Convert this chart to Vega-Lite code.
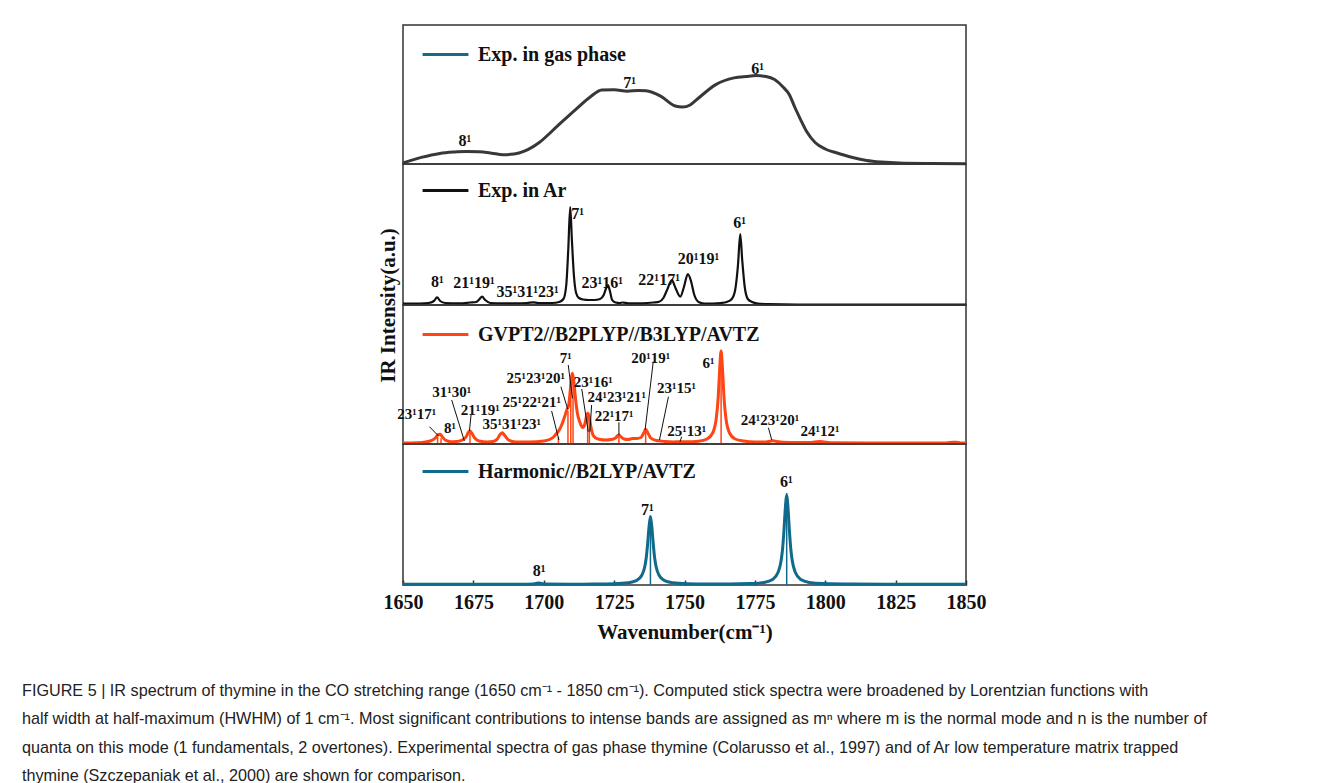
{
  "$schema": "https://vega.github.io/schema/vega-lite/v6.json",
  "autosize": {"type": "pad"},
  "padding": {"left": 22, "top": 24, "right": 8, "bottom": 0},
  "background": "white",
  "spacing": 0,
  "bounds": "flush",
  "resolve": {"scale": {"color": "independent"}, "legend": {"color": "independent"}},
  "title": {
    "text": [
      "FIGURE 5 | IR spectrum of thymine in the CO stretching range (1650 cm⁻¹ - 1850 cm⁻¹). Computed stick spectra were broadened by Lorentzian functions with",
      "half width at half-maximum (HWHM) of 1 cm⁻¹. Most significant contributions to intense bands are assigned as mⁿ where m is the normal mode and n is the number of",
      "quanta on this mode (1 fundamentals, 2 overtones). Experimental spectra of gas phase thymine (Colarusso et al., 1997) and of Ar low temperature matrix trapped",
      "thymine (Szczepaniak et al., 2000) are shown for comparison."
    ],
    "orient": "bottom",
    "anchor": "start",
    "frame": "group",
    "dx": -381,
    "offset": 40,
    "baseline": "top",
    "font": "Liberation Sans",
    "fontSize": 16.2,
    "fontWeight": "normal",
    "color": "#222222",
    "lineHeight": 28.5
  },
  "datasets": {
    "gas": [
      {"wn": 1650, "v": 1.0}, {"wn": 1656.5, "v": 6.6}, {"wn": 1663.1, "v": 10.6}, {"wn": 1668.5, "v": 12.0},
      {"wn": 1672.5, "v": 12.6}, {"wn": 1677, "v": 12.2}, {"wn": 1681.5, "v": 10.8}, {"wn": 1685.5, "v": 9.3},
      {"wn": 1689.5, "v": 10.0}, {"wn": 1693.1, "v": 12.8}, {"wn": 1698.4, "v": 21.5}, {"wn": 1704.9, "v": 38.1},
      {"wn": 1711.4, "v": 54.6}, {"wn": 1716.5, "v": 67.0}, {"wn": 1720.6, "v": 74.0}, {"wn": 1725, "v": 74.3},
      {"wn": 1729.7, "v": 72.8}, {"wn": 1733.5, "v": 73.6}, {"wn": 1736.3, "v": 73.3}, {"wn": 1741.5, "v": 67.9},
      {"wn": 1746.7, "v": 58.0}, {"wn": 1749.3, "v": 56.9}, {"wn": 1752, "v": 59.0}, {"wn": 1754.6, "v": 65.0},
      {"wn": 1761.1, "v": 79.4}, {"wn": 1767.6, "v": 86.1}, {"wn": 1772, "v": 87.6}, {"wn": 1775.5, "v": 88.4},
      {"wn": 1779, "v": 87.5}, {"wn": 1782, "v": 84.4}, {"wn": 1785, "v": 77.0}, {"wn": 1787.2, "v": 69.5},
      {"wn": 1789.3, "v": 56.0}, {"wn": 1791.2, "v": 44.7}, {"wn": 1793.5, "v": 32.0}, {"wn": 1796.4, "v": 21.5},
      {"wn": 1800, "v": 15.0}, {"wn": 1804.2, "v": 11.0}, {"wn": 1809, "v": 7.0}, {"wn": 1814.7, "v": 3.6},
      {"wn": 1820, "v": 2.0}, {"wn": 1826.4, "v": 1.0}, {"wn": 1838, "v": 0.5}, {"wn": 1850, "v": 0.3}
    ],
    "ar": [
      {"wn": 1650, "v": 1.5}, {"wn": 1656, "v": 1.5}, {"wn": 1659, "v": 2.0}, {"wn": 1661, "v": 4.0},
      {"wn": 1662.1, "v": 7.7}, {"wn": 1663.2, "v": 4.0}, {"wn": 1665, "v": 2.0}, {"wn": 1670, "v": 1.7},
      {"wn": 1673.9, "v": 2.5}, {"wn": 1676, "v": 3.0}, {"wn": 1677.2, "v": 6.0}, {"wn": 1678.1, "v": 8.3},
      {"wn": 1679.2, "v": 5.0}, {"wn": 1681, "v": 2.0}, {"wn": 1685, "v": 1.7}, {"wn": 1690, "v": 1.7},
      {"wn": 1694, "v": 2.0}, {"wn": 1696.3, "v": 2.7}, {"wn": 1698, "v": 2.0}, {"wn": 1703, "v": 2.0},
      {"wn": 1705.5, "v": 3.0}, {"wn": 1707, "v": 6.0}, {"wn": 1708, "v": 20.0}, {"wn": 1708.7, "v": 55.0},
      {"wn": 1709.4, "v": 98.0}, {"wn": 1710, "v": 65.0}, {"wn": 1710.7, "v": 30.0}, {"wn": 1711.5, "v": 12.0},
      {"wn": 1712.5, "v": 7.0}, {"wn": 1714, "v": 5.5}, {"wn": 1716, "v": 5.0}, {"wn": 1718, "v": 5.0},
      {"wn": 1720, "v": 6.0}, {"wn": 1721.3, "v": 10.0}, {"wn": 1722.2, "v": 17.0}, {"wn": 1722.8, "v": 20.0},
      {"wn": 1723.5, "v": 14.0}, {"wn": 1724.3, "v": 5.0}, {"wn": 1725.5, "v": 2.5}, {"wn": 1727, "v": 2.0},
      {"wn": 1728, "v": 2.5}, {"wn": 1730, "v": 1.7}, {"wn": 1735, "v": 1.7}, {"wn": 1739, "v": 2.5},
      {"wn": 1741, "v": 3.3}, {"wn": 1742.5, "v": 7.0}, {"wn": 1743.8, "v": 15.0}, {"wn": 1745.5, "v": 25.0},
      {"wn": 1746.8, "v": 17.0}, {"wn": 1748.5, "v": 8.3}, {"wn": 1749.8, "v": 18.0}, {"wn": 1751.2, "v": 31.0},
      {"wn": 1752.3, "v": 24.0}, {"wn": 1753.5, "v": 10.0}, {"wn": 1755, "v": 3.0}, {"wn": 1757, "v": 1.5},
      {"wn": 1760, "v": 1.5}, {"wn": 1763, "v": 2.0}, {"wn": 1765, "v": 3.0}, {"wn": 1766.8, "v": 6.0},
      {"wn": 1768, "v": 15.0}, {"wn": 1769, "v": 40.0}, {"wn": 1769.8, "v": 71.0}, {"wn": 1770.5, "v": 45.0},
      {"wn": 1771.4, "v": 18.0}, {"wn": 1772.5, "v": 6.0}, {"wn": 1774, "v": 3.0}, {"wn": 1776, "v": 1.5},
      {"wn": 1780, "v": 0.8}, {"wn": 1790, "v": 0.5}, {"wn": 1850, "v": 0.5}
    ],
    "gv": [
      {"wn": 1650, "v": 1.0}, {"wn": 1655, "v": 1.3}, {"wn": 1658, "v": 2.0}, {"wn": 1660, "v": 3.3},
      {"wn": 1661.5, "v": 6.0}, {"wn": 1662.5, "v": 9.5}, {"wn": 1663.2, "v": 9.7}, {"wn": 1664, "v": 7.0},
      {"wn": 1665, "v": 4.0}, {"wn": 1667, "v": 2.3}, {"wn": 1669, "v": 2.5}, {"wn": 1671, "v": 4.0},
      {"wn": 1672.5, "v": 7.5}, {"wn": 1673.3, "v": 12.0}, {"wn": 1673.8, "v": 13.0}, {"wn": 1674.4, "v": 11.0},
      {"wn": 1675.5, "v": 6.0}, {"wn": 1677, "v": 3.0}, {"wn": 1680, "v": 2.0}, {"wn": 1682, "v": 2.5},
      {"wn": 1683.5, "v": 5.0}, {"wn": 1684.6, "v": 10.0}, {"wn": 1685.3, "v": 11.3}, {"wn": 1686, "v": 9.0},
      {"wn": 1687.5, "v": 4.0}, {"wn": 1690, "v": 2.0}, {"wn": 1695, "v": 2.0}, {"wn": 1700, "v": 3.0},
      {"wn": 1702, "v": 4.5}, {"wn": 1703.5, "v": 7.0}, {"wn": 1704.6, "v": 10.7}, {"wn": 1705.5, "v": 14.0},
      {"wn": 1706.5, "v": 20.0}, {"wn": 1707.5, "v": 28.0}, {"wn": 1708.3, "v": 35.0}, {"wn": 1708.8, "v": 38.0},
      {"wn": 1709.3, "v": 50.0}, {"wn": 1709.8, "v": 66.0}, {"wn": 1710.2, "v": 70.7}, {"wn": 1710.7, "v": 62.0},
      {"wn": 1711.3, "v": 45.0}, {"wn": 1712, "v": 30.0}, {"wn": 1712.8, "v": 22.0}, {"wn": 1713.8, "v": 16.5},
      {"wn": 1714.6, "v": 20.0}, {"wn": 1715.2, "v": 28.0}, {"wn": 1715.6, "v": 30.7}, {"wn": 1716.1, "v": 28.0},
      {"wn": 1716.7, "v": 18.0}, {"wn": 1717.5, "v": 9.0}, {"wn": 1718.5, "v": 6.0}, {"wn": 1720, "v": 4.5},
      {"wn": 1722, "v": 4.0}, {"wn": 1724, "v": 4.5}, {"wn": 1725.5, "v": 6.0}, {"wn": 1726.3, "v": 8.5},
      {"wn": 1726.7, "v": 9.0}, {"wn": 1727.3, "v": 7.5}, {"wn": 1728.5, "v": 5.0}, {"wn": 1730, "v": 4.5},
      {"wn": 1731.5, "v": 5.5}, {"wn": 1733, "v": 5.5}, {"wn": 1734.5, "v": 6.5}, {"wn": 1735.5, "v": 11.0},
      {"wn": 1736.2, "v": 14.7}, {"wn": 1736.9, "v": 11.5}, {"wn": 1738, "v": 6.0}, {"wn": 1740, "v": 3.5},
      {"wn": 1741.1, "v": 3.2}, {"wn": 1743, "v": 2.5}, {"wn": 1746, "v": 2.0}, {"wn": 1748.4, "v": 2.3},
      {"wn": 1751, "v": 2.2}, {"wn": 1755, "v": 2.8}, {"wn": 1758, "v": 5.0}, {"wn": 1760, "v": 11.0},
      {"wn": 1761.3, "v": 26.0}, {"wn": 1762, "v": 48.0}, {"wn": 1762.5, "v": 75.0}, {"wn": 1763, "v": 93.0},
      {"wn": 1763.5, "v": 75.0}, {"wn": 1764, "v": 48.0}, {"wn": 1764.7, "v": 26.0}, {"wn": 1766, "v": 11.0},
      {"wn": 1768, "v": 5.0}, {"wn": 1771, "v": 3.0}, {"wn": 1775, "v": 2.0}, {"wn": 1779, "v": 2.0},
      {"wn": 1780.5, "v": 2.8}, {"wn": 1781.5, "v": 3.2}, {"wn": 1782.5, "v": 2.7}, {"wn": 1785, "v": 1.8},
      {"wn": 1790, "v": 1.5}, {"wn": 1795, "v": 1.6}, {"wn": 1797, "v": 2.2}, {"wn": 1798.1, "v": 2.5},
      {"wn": 1799.5, "v": 2.1}, {"wn": 1803, "v": 1.3}, {"wn": 1815, "v": 1.0}, {"wn": 1830, "v": 1.0},
      {"wn": 1843, "v": 1.1}, {"wn": 1845.5, "v": 1.8}, {"wn": 1846.5, "v": 1.8}, {"wn": 1848, "v": 1.1},
      {"wn": 1850, "v": 1.0}
    ],
    "hm": [
      {"wn": 1650, "v": 0.7}, {"wn": 1680, "v": 0.7}, {"wn": 1692, "v": 0.8}, {"wn": 1696, "v": 1.0},
      {"wn": 1697.2, "v": 1.5}, {"wn": 1698.2, "v": 1.9}, {"wn": 1699.2, "v": 1.5}, {"wn": 1700.5, "v": 1.0},
      {"wn": 1710, "v": 0.8}, {"wn": 1718, "v": 0.9}, {"wn": 1724.9, "v": 1.2}, {"wn": 1729.9, "v": 2.2},
      {"wn": 1732.9, "v": 4.3}, {"wn": 1734.9, "v": 10.0}, {"wn": 1735.9, "v": 18.5}, {"wn": 1736.4, "v": 27.0},
      {"wn": 1736.9, "v": 41.0}, {"wn": 1737.4, "v": 58.0}, {"wn": 1737.9, "v": 68.6}, {"wn": 1738.4, "v": 58.0},
      {"wn": 1738.9, "v": 41.0}, {"wn": 1739.4, "v": 27.0}, {"wn": 1739.9, "v": 18.5}, {"wn": 1740.9, "v": 10.0},
      {"wn": 1742.9, "v": 4.3}, {"wn": 1745.9, "v": 2.2}, {"wn": 1750.9, "v": 1.2}, {"wn": 1758, "v": 0.9},
      {"wn": 1766, "v": 0.9}, {"wn": 1773.3, "v": 1.4}, {"wn": 1778.3, "v": 2.6}, {"wn": 1781.3, "v": 5.5},
      {"wn": 1783.3, "v": 13.0}, {"wn": 1784.3, "v": 24.0}, {"wn": 1784.8, "v": 35.0}, {"wn": 1785.3, "v": 53.0},
      {"wn": 1785.8, "v": 76.0}, {"wn": 1786.3, "v": 89.5}, {"wn": 1786.8, "v": 76.0}, {"wn": 1787.3, "v": 53.0},
      {"wn": 1787.8, "v": 35.0}, {"wn": 1788.3, "v": 24.0}, {"wn": 1789.3, "v": 13.0}, {"wn": 1791.3, "v": 5.5},
      {"wn": 1794.3, "v": 2.6}, {"wn": 1799.3, "v": 1.4}, {"wn": 1810, "v": 0.9}, {"wn": 1830, "v": 0.7},
      {"wn": 1850, "v": 0.7}
    ],
    "gvs": [
      {"wn": 1662.3, "v": 8.3}, {"wn": 1663.5, "v": 5.7}, {"wn": 1673.8, "v": 11.3}, {"wn": 1705.2, "v": 7.0},
      {"wn": 1708.6, "v": 33.0}, {"wn": 1709.6, "v": 60.0}, {"wn": 1710.4, "v": 68.0}, {"wn": 1715.6, "v": 28.0},
      {"wn": 1716.2, "v": 25.0}, {"wn": 1726.7, "v": 8.0}, {"wn": 1736.2, "v": 12.0}, {"wn": 1763, "v": 90.0}
    ],
    "hms": [
      {"wn": 1698.2, "v": 1.5}, {"wn": 1737.9, "v": 67.0}, {"wn": 1786.3, "v": 92.0}
    ],
    "lab": [
      {"p": "gas", "wn": 1672, "v": 23, "t": "8¹"},
      {"p": "gas", "wn": 1730.5, "v": 81, "t": "7¹"},
      {"p": "gas", "wn": 1776, "v": 95, "t": "6¹"},
      {"p": "ar", "wn": 1662.2, "v": 23, "t": "8¹"},
      {"p": "ar", "wn": 1675.2, "v": 22, "t": "21¹19¹"},
      {"p": "ar", "wn": 1694.3, "v": 13.5, "t": "35¹31¹23¹"},
      {"p": "ar", "wn": 1712, "v": 91, "t": "7¹"},
      {"p": "ar", "wn": 1720.8, "v": 22.5, "t": "23¹16¹"},
      {"p": "ar", "wn": 1741, "v": 25, "t": "22¹17¹"},
      {"p": "ar", "wn": 1755, "v": 46, "t": "20¹19¹"},
      {"p": "ar", "wn": 1769.6, "v": 82, "t": "6¹"},
      {"p": "gv", "wn": 1654.9, "v": 29.7, "t": "23¹17¹"},
      {"p": "gv", "wn": 1666.7, "v": 16.3, "t": "8¹"},
      {"p": "gv", "wn": 1667.3, "v": 51.7, "t": "31¹30¹"},
      {"p": "gv", "wn": 1677.4, "v": 34, "t": "21¹19¹"},
      {"p": "gv", "wn": 1688.6, "v": 20, "t": "35¹31¹23¹"},
      {"p": "gv", "wn": 1695.7, "v": 42.3, "t": "25¹22¹21¹"},
      {"p": "gv", "wn": 1697.2, "v": 66.3, "t": "25¹23¹20¹"},
      {"p": "gv", "wn": 1707.8, "v": 85.7, "t": "7¹"},
      {"p": "gv", "wn": 1717.6, "v": 61.7, "t": "23¹16¹"},
      {"p": "gv", "wn": 1725.9, "v": 47.3, "t": "24¹23¹21¹"},
      {"p": "gv", "wn": 1725.0, "v": 28, "t": "22¹17¹"},
      {"p": "gv", "wn": 1738, "v": 86.3, "t": "20¹19¹"},
      {"p": "gv", "wn": 1747.2, "v": 55.7, "t": "23¹15¹"},
      {"p": "gv", "wn": 1750.8, "v": 13, "t": "25¹13¹"},
      {"p": "gv", "wn": 1758.5, "v": 80.7, "t": "6¹"},
      {"p": "gv", "wn": 1780.4, "v": 24, "t": "24¹23¹20¹"},
      {"p": "gv", "wn": 1798.1, "v": 13, "t": "24¹12¹"},
      {"p": "hm", "wn": 1698.4, "v": 14, "t": "8¹"},
      {"p": "hm", "wn": 1736.8, "v": 75, "t": "7¹"},
      {"p": "hm", "wn": 1786.2, "v": 103, "t": "6¹"}
    ],
    "lead": [
      {"wn": 1659.4, "v": 17.3, "wn2": 1662.6, "v2": 8},
      {"wn": 1667.3, "v": 44, "wn2": 1671.8, "v2": 3},
      {"wn": 1674.2, "v": 29.7, "wn2": 1673.6, "v2": 13},
      {"wn": 1702.8, "v": 33, "wn2": 1705.4, "v2": 4},
      {"wn": 1706.1, "v": 57.3, "wn2": 1708.5, "v2": 35},
      {"wn": 1708.7, "v": 79, "wn2": 1710.2, "v2": 45.7},
      {"wn": 1713.5, "v": 55, "wn2": 1715.8, "v2": 12.3},
      {"wn": 1717.0, "v": 39, "wn2": 1716.4, "v2": 12.3},
      {"wn": 1726.7, "v": 21.7, "wn2": 1726.7, "v2": 9},
      {"wn": 1738.9, "v": 82.3, "wn2": 1736.0, "v2": 14},
      {"wn": 1744.3, "v": 47.3, "wn2": 1741.1, "v2": 4},
      {"wn": 1749.0, "v": 7.3, "wn2": 1748.4, "v2": 2.3},
      {"wn": 1779.8, "v": 16.3, "wn2": 1781.0, "v2": 4}
    ]
  },
  "vconcat": [
    {
      "width": 563, "height": 139,
      "layer": [
        {
          "data": {"name": "gas"},
          "mark": {"type": "line", "interpolate": "monotone", "strokeWidth": 3, "color": "#383838"},
          "encoding": {
            "x": {"field": "wn", "type": "quantitative", "scale": {"domain": [1650, 1850], "nice": false}, "axis": null},
            "y": {"field": "v", "type": "quantitative", "scale": {"domain": [0, 139], "nice": false}, "axis": null}
          }
        },
        {
          "data": {"name": "gas"},
          "transform": [{"filter": "datum.wn < 0"}],
          "mark": {"type": "line", "strokeWidth": 3},
          "encoding": {
            "x": {"field": "wn", "type": "quantitative"},
            "y": {"field": "v", "type": "quantitative"},
            "color": {"datum": "Exp. in gas phase", "type": "nominal", "scale": {"range": ["#17698a"]},
              "legend": {"title": null, "legendY": 5}}
          }
        },
        {
          "data": {"name": "lab"},
          "transform": [{"filter": "datum.p == 'gas'"}],
          "mark": {"type": "text", "font": "Liberation Serif", "fontWeight": "bold", "fontSize": 16, "color": "#111111"},
          "encoding": {
            "x": {"field": "wn", "type": "quantitative"},
            "y": {"field": "v", "type": "quantitative"},
            "text": {"field": "t", "type": "nominal"}
          }
        }
      ]
    },
    {
      "width": 563, "height": 141,
      "layer": [
        {
          "data": {"name": "ar"},
          "mark": {"type": "line", "interpolate": "monotone", "strokeWidth": 2.2},
          "encoding": {
            "x": {"field": "wn", "type": "quantitative", "scale": {"domain": [1650, 1850], "nice": false}, "axis": null},
            "y": {"field": "v", "type": "quantitative", "scale": {"domain": [0, 141], "nice": false},
              "axis": {"title": "IR Intensity(a.u.)", "labels": false, "ticks": false, "domain": false, "grid": false,
                "titleX": -9, "titleY": 141, "titleAngle": -90, "titleAlign": "center", "titleBaseline": "alphabetic",
                "titleFont": "Liberation Serif", "titleFontWeight": "bold", "titleFontSize": 21, "titleColor": "#111111"}},
            "color": {"datum": "Exp. in Ar", "type": "nominal", "scale": {"range": ["#111111"]}, "legend": {"title": null, "legendY": 2}}
          }
        },
        {
          "data": {"name": "lab"},
          "transform": [{"filter": "datum.p == 'ar'"}],
          "mark": {"type": "text", "font": "Liberation Serif", "fontWeight": "bold", "fontSize": 16, "color": "#111111"},
          "encoding": {
            "x": {"field": "wn", "type": "quantitative"},
            "y": {"field": "v", "type": "quantitative"},
            "text": {"field": "t", "type": "nominal"}
          }
        }
      ]
    },
    {
      "width": 563, "height": 139,
      "layer": [
        {
          "data": {"name": "gvs"},
          "mark": {"type": "rule", "strokeWidth": 1.5, "color": "#ff4514"},
          "encoding": {
            "x": {"field": "wn", "type": "quantitative", "scale": {"domain": [1650, 1850], "nice": false}, "axis": null},
            "y": {"field": "v", "type": "quantitative", "scale": {"domain": [0, 139], "nice": false}, "axis": null},
            "y2": {"datum": 0}
          }
        },
        {
          "data": {"name": "gv"},
          "mark": {"type": "line", "interpolate": "monotone", "strokeWidth": 3},
          "encoding": {
            "x": {"field": "wn", "type": "quantitative"},
            "y": {"field": "v", "type": "quantitative"},
            "color": {"datum": "GVPT2//B2PLYP//B3LYP/AVTZ", "type": "nominal", "scale": {"range": ["#ff4514"]}, "legend": {"title": null, "legendY": 5}}
          }
        },
        {
          "data": {"name": "lead"},
          "mark": {"type": "rule", "strokeWidth": 1, "color": "#111111"},
          "encoding": {
            "x": {"field": "wn", "type": "quantitative"},
            "y": {"field": "v", "type": "quantitative"},
            "x2": {"field": "wn2"},
            "y2": {"field": "v2"}
          }
        },
        {
          "data": {"name": "lab"},
          "transform": [{"filter": "datum.p == 'gv'"}],
          "mark": {"type": "text", "font": "Liberation Serif", "fontWeight": "bold", "fontSize": 15, "color": "#111111"},
          "encoding": {
            "x": {"field": "wn", "type": "quantitative"},
            "y": {"field": "v", "type": "quantitative"},
            "text": {"field": "t", "type": "nominal"}
          }
        }
      ]
    },
    {
      "width": 563, "height": 141,
      "layer": [
        {
          "data": {"name": "hms"},
          "mark": {"type": "rule", "strokeWidth": 1.5, "color": "#0f6a8b"},
          "encoding": {
            "x": {"field": "wn", "type": "quantitative", "scale": {"domain": [1650, 1850], "nice": false},
              "axis": {"title": "Wavenumber(cm⁻¹)", "values": [1650, 1675, 1700, 1725, 1750, 1775, 1800, 1825, 1850],
                "format": "d", "domain": false, "grid": false, "ticks": true, "tickSize": -5, "tickWidth": 1.5, "tickColor": "#333333",
                "labelPadding": 12, "labelFlush": false, "labelFont": "Liberation Serif", "labelFontWeight": "bold",
                "labelFontSize": 20, "labelColor": "#111111", "titleFont": "Liberation Serif", "titleFontWeight": "bold",
                "titleFontSize": 21, "titleColor": "#111111", "titlePadding": 9}},
            "y": {"field": "v", "type": "quantitative", "scale": {"domain": [0, 141], "nice": false}, "axis": null},
            "y2": {"datum": 0}
          }
        },
        {
          "data": {"name": "hm"},
          "mark": {"type": "line", "interpolate": "monotone", "strokeWidth": 3},
          "encoding": {
            "x": {"field": "wn", "type": "quantitative"},
            "y": {"field": "v", "type": "quantitative"},
            "color": {"datum": "Harmonic//B2LYP/AVTZ", "type": "nominal", "scale": {"range": ["#0f6a8b"]}, "legend": {"title": null, "legendY": 3}}
          }
        },
        {
          "data": {"name": "lab"},
          "transform": [{"filter": "datum.p == 'hm'"}],
          "mark": {"type": "text", "font": "Liberation Serif", "fontWeight": "bold", "fontSize": 16, "color": "#111111"},
          "encoding": {
            "x": {"field": "wn", "type": "quantitative"},
            "y": {"field": "v", "type": "quantitative"},
            "text": {"field": "t", "type": "nominal"}
          }
        }
      ]
    }
  ],
  "config": {
    "view": {"stroke": "#333333", "strokeWidth": 1.5},
    "concat": {"spacing": 0},
    "axis": {"grid": false},
    "legend": {
      "orient": "none", "legendX": 18, "legendY": 4, "symbolType": "stroke", "symbolSize": 2100, "symbolStrokeWidth": 3,
      "labelFont": "Liberation Serif", "labelFontSize": 20, "labelFontWeight": "bold", "labelColor": "#111111",
      "labelOffset": 8, "labelLimit": 0, "padding": 0
    }
  }
}
